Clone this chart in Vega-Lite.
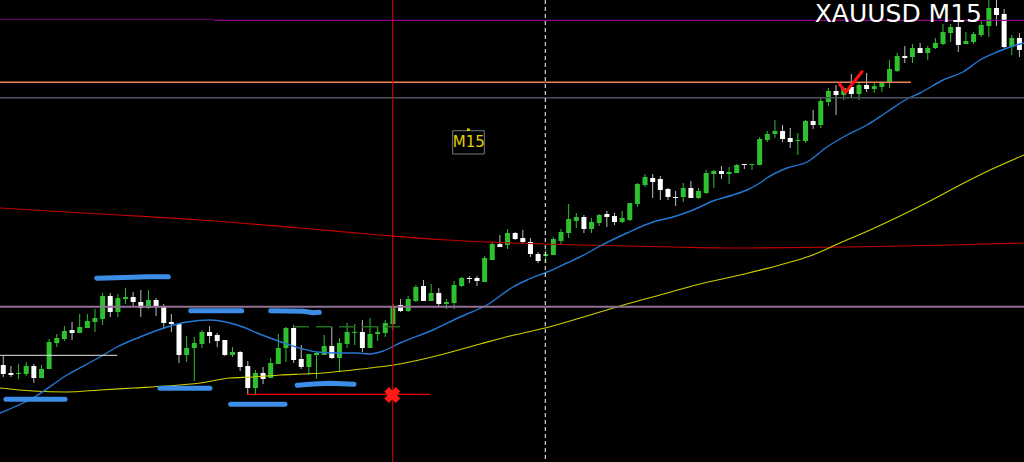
{
"$schema": "https://vega.github.io/schema/vega-lite/v6.json",
"autosize": {"type": "none"},
"width": 1024, "height": 462, "padding": 0,
"background": "#000000",
"config": {"view": {"stroke": null}, "scale": {"continuousPadding": 0}},
"datasets": {
"candles": [
{"n":1,"o":2063.5,"h":2064.4,"l":2062.3,"c":2062.6},
{"n":2,"o":2062.7,"h":2063.4,"l":2062.3,"c":2062.5},
{"n":3,"o":2062.6,"h":2063.6,"l":2062.1,"c":2062.7},
{"n":4,"o":2062.6,"h":2063.8,"l":2062.4,"c":2063.4},
{"n":5,"o":2063.4,"h":2063.6,"l":2061.7,"c":2062.2},
{"n":6,"o":2062.2,"h":2063.5,"l":2062.2,"c":2063.1},
{"n":7,"o":2063.1,"h":2066.1,"l":2063.1,"c":2065.8},
{"n":8,"o":2065.7,"h":2066.6,"l":2065.3,"c":2066.2},
{"n":9,"o":2066.1,"h":2067.4,"l":2065.9,"c":2066.9},
{"n":10,"o":2067.0,"h":2067.8,"l":2066.0,"c":2066.7},
{"n":11,"o":2066.7,"h":2068.6,"l":2066.7,"c":2067.3},
{"n":12,"o":2067.2,"h":2068.6,"l":2067.2,"c":2067.9},
{"n":13,"o":2067.8,"h":2069.1,"l":2066.8,"c":2068.2},
{"n":14,"o":2068.1,"h":2070.7,"l":2067.5,"c":2070.4},
{"n":15,"o":2070.4,"h":2070.7,"l":2068.3,"c":2068.8},
{"n":16,"o":2068.8,"h":2070.6,"l":2068.3,"c":2070.2},
{"n":17,"o":2070.1,"h":2071.2,"l":2069.6,"c":2070.3},
{"n":18,"o":2070.3,"h":2070.8,"l":2069.3,"c":2069.8},
{"n":19,"o":2069.8,"h":2071.0,"l":2068.3,"c":2069.2},
{"n":20,"o":2069.2,"h":2071.0,"l":2069.1,"c":2070.0},
{"n":21,"o":2070.0,"h":2070.2,"l":2068.4,"c":2069.4},
{"n":22,"o":2069.3,"h":2069.6,"l":2067.1,"c":2067.7},
{"n":23,"o":2067.8,"h":2068.6,"l":2066.8,"c":2067.6},
{"n":24,"o":2067.6,"h":2067.7,"l":2063.7,"c":2064.5},
{"n":25,"o":2064.5,"h":2066.4,"l":2063.8,"c":2065.2},
{"n":26,"o":2065.2,"h":2066.3,"l":2061.9,"c":2065.7},
{"n":27,"o":2065.6,"h":2067.0,"l":2065.2,"c":2066.8},
{"n":28,"o":2066.8,"h":2067.4,"l":2065.7,"c":2066.4},
{"n":29,"o":2066.5,"h":2066.7,"l":2065.3,"c":2065.9},
{"n":30,"o":2066.0,"h":2066.0,"l":2064.4,"c":2064.5},
{"n":31,"o":2064.5,"h":2065.3,"l":2064.3,"c":2064.8},
{"n":32,"o":2064.8,"h":2064.9,"l":2062.9,"c":2063.3},
{"n":33,"o":2063.4,"h":2063.9,"l":2060.6,"c":2061.2},
{"n":34,"o":2061.2,"h":2063.0,"l":2060.6,"c":2062.7},
{"n":35,"o":2062.7,"h":2063.3,"l":2061.6,"c":2062.1},
{"n":36,"o":2062.2,"h":2064.2,"l":2062.2,"c":2063.7},
{"n":37,"o":2063.6,"h":2066.6,"l":2063.6,"c":2065.2},
{"n":38,"o":2065.2,"h":2067.3,"l":2063.8,"c":2067.2},
{"n":39,"o":2067.2,"h":2067.5,"l":2063.7,"c":2064.0},
{"n":40,"o":2064.1,"h":2065.5,"l":2063.1,"c":2063.3},
{"n":41,"o":2063.3,"h":2064.6,"l":2062.5,"c":2064.6},
{"n":42,"o":2064.5,"h":2064.8,"l":2062.1,"c":2064.7},
{"n":43,"o":2064.5,"h":2066.5,"l":2064.5,"c":2065.4},
{"n":44,"o":2065.4,"h":2067.3,"l":2064.1,"c":2064.2},
{"n":45,"o":2064.2,"h":2066.2,"l":2062.8,"c":2065.7},
{"n":46,"o":2065.6,"h":2067.7,"l":2065.2,"c":2066.8},
{"n":47,"o":2066.7,"h":2067.6,"l":2065.5,"c":2066.8},
{"n":48,"o":2066.8,"h":2068.0,"l":2064.8,"c":2065.2},
{"n":49,"o":2065.2,"h":2068.2,"l":2065.2,"c":2066.6},
{"n":50,"o":2066.6,"h":2067.3,"l":2065.9,"c":2066.8},
{"n":51,"o":2066.7,"h":2068.0,"l":2066.3,"c":2067.7},
{"n":52,"o":2067.6,"h":2069.6,"l":2067.0,"c":2069.4},
{"n":53,"o":2069.5,"h":2070.1,"l":2068.8,"c":2068.9},
{"n":54,"o":2068.9,"h":2070.4,"l":2068.8,"c":2070.1},
{"n":55,"o":2069.9,"h":2071.5,"l":2069.8,"c":2071.3},
{"n":56,"o":2071.4,"h":2072.0,"l":2069.9,"c":2069.9},
{"n":57,"o":2069.9,"h":2071.6,"l":2069.9,"c":2070.7},
{"n":58,"o":2070.7,"h":2071.2,"l":2069.4,"c":2069.6},
{"n":59,"o":2069.6,"h":2070.1,"l":2069.1,"c":2069.8},
{"n":60,"o":2069.7,"h":2071.9,"l":2069.1,"c":2071.5},
{"n":61,"o":2071.4,"h":2072.3,"l":2071.3,"c":2072.2},
{"n":62,"o":2072.2,"h":2072.4,"l":2071.7,"c":2072.1},
{"n":63,"o":2072.2,"h":2072.4,"l":2071.4,"c":2071.9},
{"n":64,"o":2071.8,"h":2074.4,"l":2071.8,"c":2074.2},
{"n":65,"o":2074.0,"h":2075.8,"l":2074.0,"c":2075.6},
{"n":66,"o":2075.6,"h":2076.5,"l":2075.3,"c":2075.3},
{"n":67,"o":2075.5,"h":2077.1,"l":2075.1,"c":2076.7},
{"n":68,"o":2076.7,"h":2076.8,"l":2076.0,"c":2076.1},
{"n":69,"o":2076.2,"h":2077.0,"l":2075.7,"c":2075.8},
{"n":70,"o":2075.8,"h":2076.2,"l":2074.3,"c":2074.6},
{"n":71,"o":2074.6,"h":2074.8,"l":2073.7,"c":2073.9},
{"n":72,"o":2074.4,"h":2075.0,"l":2073.7,"c":2074.6},
{"n":73,"o":2074.5,"h":2076.3,"l":2074.5,"c":2076.1},
{"n":74,"o":2075.9,"h":2077.1,"l":2075.5,"c":2076.8},
{"n":75,"o":2076.7,"h":2079.6,"l":2076.2,"c":2078.1},
{"n":76,"o":2077.9,"h":2078.7,"l":2077.2,"c":2078.3},
{"n":77,"o":2078.3,"h":2078.5,"l":2076.7,"c":2077.1},
{"n":78,"o":2077.1,"h":2078.2,"l":2076.7,"c":2077.8},
{"n":79,"o":2077.7,"h":2078.6,"l":2077.4,"c":2078.5},
{"n":80,"o":2078.6,"h":2078.9,"l":2077.3,"c":2078.3},
{"n":81,"o":2078.4,"h":2078.7,"l":2077.5,"c":2077.8},
{"n":82,"o":2077.8,"h":2078.9,"l":2077.7,"c":2078.2},
{"n":83,"o":2078.0,"h":2079.7,"l":2077.9,"c":2079.7},
{"n":84,"o":2079.6,"h":2081.7,"l":2079.3,"c":2081.6},
{"n":85,"o":2081.5,"h":2082.6,"l":2081.3,"c":2082.3},
{"n":86,"o":2082.2,"h":2082.6,"l":2080.2,"c":2081.8},
{"n":87,"o":2082.1,"h":2082.4,"l":2080.0,"c":2081.0},
{"n":88,"o":2081.1,"h":2081.2,"l":2080.0,"c":2080.3},
{"n":89,"o":2080.3,"h":2080.9,"l":2079.4,"c":2080.2},
{"n":90,"o":2080.3,"h":2081.7,"l":2079.8,"c":2081.2},
{"n":91,"o":2081.2,"h":2081.9,"l":2080.2,"c":2080.2},
{"n":92,"o":2080.2,"h":2081.2,"l":2080.1,"c":2080.9},
{"n":93,"o":2080.7,"h":2083.0,"l":2080.6,"c":2082.7},
{"n":94,"o":2082.6,"h":2083.0,"l":2081.2,"c":2082.9},
{"n":95,"o":2082.9,"h":2083.4,"l":2082.1,"c":2082.6},
{"n":96,"o":2082.6,"h":2083.3,"l":2081.6,"c":2082.8},
{"n":97,"o":2082.7,"h":2083.6,"l":2082.7,"c":2083.5},
{"n":98,"o":2083.6,"h":2083.6,"l":2083.1,"c":2083.5},
{"n":99,"o":2083.5,"h":2083.6,"l":2083.0,"c":2083.6},
{"n":100,"o":2083.5,"h":2086.3,"l":2083.5,"c":2086.1},
{"n":101,"o":2086.0,"h":2086.9,"l":2085.8,"c":2086.6},
{"n":102,"o":2086.6,"h":2088.0,"l":2086.2,"c":2086.9},
{"n":103,"o":2086.9,"h":2087.5,"l":2085.8,"c":2086.1},
{"n":104,"o":2086.2,"h":2087.2,"l":2085.2,"c":2085.8},
{"n":105,"o":2085.9,"h":2086.7,"l":2084.5,"c":2086.0},
{"n":106,"o":2085.9,"h":2088.0,"l":2085.7,"c":2087.9},
{"n":107,"o":2087.9,"h":2089.0,"l":2087.1,"c":2087.5},
{"n":108,"o":2087.5,"h":2090.3,"l":2087.2,"c":2089.9},
{"n":109,"o":2089.8,"h":2091.2,"l":2089.4,"c":2090.9},
{"n":110,"o":2090.9,"h":2091.5,"l":2088.5,"c":2090.5},
{"n":111,"o":2090.5,"h":2091.3,"l":2090.0,"c":2091.2},
{"n":112,"o":2091.3,"h":2092.6,"l":2090.3,"c":2090.6},
{"n":113,"o":2090.6,"h":2091.7,"l":2090.0,"c":2091.5},
{"n":114,"o":2091.5,"h":2092.7,"l":2090.8,"c":2091.1},
{"n":115,"o":2091.1,"h":2091.7,"l":2090.7,"c":2091.4},
{"n":116,"o":2091.3,"h":2091.8,"l":2090.8,"c":2091.7},
{"n":117,"o":2091.7,"h":2094.0,"l":2091.2,"c":2093.1},
{"n":118,"o":2092.9,"h":2094.7,"l":2092.8,"c":2094.4},
{"n":119,"o":2094.4,"h":2095.4,"l":2093.7,"c":2094.2},
{"n":120,"o":2094.3,"h":2095.6,"l":2093.7,"c":2095.2},
{"n":121,"o":2095.2,"h":2095.7,"l":2094.7,"c":2094.7},
{"n":122,"o":2094.7,"h":2095.4,"l":2094.0,"c":2095.2},
{"n":123,"o":2095.2,"h":2096.2,"l":2095.1,"c":2095.7},
{"n":124,"o":2095.6,"h":2097.6,"l":2095.5,"c":2096.8},
{"n":125,"o":2096.7,"h":2097.6,"l":2095.8,"c":2097.3},
{"n":126,"o":2097.3,"h":2097.8,"l":2094.8,"c":2095.5},
{"n":127,"o":2095.6,"h":2096.8,"l":2095.6,"c":2095.9},
{"n":128,"o":2095.8,"h":2096.8,"l":2095.6,"c":2096.6},
{"n":129,"o":2096.5,"h":2098.0,"l":2096.3,"c":2097.5},
{"n":130,"o":2097.4,"h":2100.0,"l":2096.3,"c":2099.2},
{"n":131,"o":2099.2,"h":2100.0,"l":2097.4,"c":2098.5},
{"n":132,"o":2098.6,"h":2099.1,"l":2095.2,"c":2095.3},
{"n":133,"o":2095.3,"h":2096.5,"l":2094.5,"c":2096.2},
{"n":134,"o":2096.2,"h":2096.7,"l":2094.3,"c":2095.0}
],
"maBlue": [
{"n":0.57,"p":2058.7},{"n":4.89,"p":2060.2},{"n":9.34,"p":2062.5},{"n":13.66,"p":2064.3},{"n":15.88,"p":2065.3},{"n":18.89,"p":2066.3},{"n":22.43,"p":2067.3},{"n":25.04,"p":2067.8},{"n":28.05,"p":2068.0},{"n":30.67,"p":2067.7},{"n":32.37,"p":2067.3},{"n":34.2,"p":2066.7},{"n":35.91,"p":2066.2},{"n":38.13,"p":2065.6},{"n":40.23,"p":2065.1},{"n":42.06,"p":2064.8},{"n":44.68,"p":2064.7},{"n":47.3,"p":2064.7},{"n":49.0,"p":2064.6},{"n":50.7,"p":2064.9},{"n":52.92,"p":2065.7},{"n":57.24,"p":2067.0},{"n":60.78,"p":2068.3},{"n":64.31,"p":2069.5},{"n":67.71,"p":2071.3},{"n":69.55,"p":2072.0},{"n":72.17,"p":2072.8},{"n":74.78,"p":2073.7},{"n":76.48,"p":2074.3},{"n":79.1,"p":2075.4},{"n":82.64,"p":2076.7},{"n":86.04,"p":2077.8},{"n":88.66,"p":2078.3},{"n":91.28,"p":2079.0},{"n":93.89,"p":2079.9},{"n":96.51,"p":2080.5},{"n":98.34,"p":2081.0},{"n":100.04,"p":2081.7},{"n":100.96,"p":2082.2},{"n":103.58,"p":2083.2},{"n":106.2,"p":2083.8},{"n":108.81,"p":2085.3},{"n":111.43,"p":2086.5},{"n":114.05,"p":2087.5},{"n":116.67,"p":2088.8},{"n":119.28,"p":2090.1},{"n":120.99,"p":2090.7},{"n":124.0,"p":2092.0},{"n":126.61,"p":2092.8},{"n":128.84,"p":2094.0},{"n":131.06,"p":2094.8},{"n":133.16,"p":2095.4},{"n":134.6,"p":2095.7}
],
"maYellow": [
{"n":0.57,"p":2061.2},{"n":4.89,"p":2060.9},{"n":9.34,"p":2060.8},{"n":13.66,"p":2061.0},{"n":17.98,"p":2061.2},{"n":22.43,"p":2061.4},{"n":26.75,"p":2061.7},{"n":30.67,"p":2062.2},{"n":33.68,"p":2062.3},{"n":37.22,"p":2062.5},{"n":40.23,"p":2062.6},{"n":42.85,"p":2062.7},{"n":45.46,"p":2062.9},{"n":49.0,"p":2063.2},{"n":52.92,"p":2063.6},{"n":58.16,"p":2064.5},{"n":63.4,"p":2065.6},{"n":67.32,"p":2066.4},{"n":71.9,"p":2067.2},{"n":76.48,"p":2068.2},{"n":81.72,"p":2069.4},{"n":86.95,"p":2070.5},{"n":92.19,"p":2071.6},{"n":97.43,"p":2072.5},{"n":102.66,"p":2073.5},{"n":106.59,"p":2074.4},{"n":110.52,"p":2075.7},{"n":114.44,"p":2077.0},{"n":118.37,"p":2078.4},{"n":122.3,"p":2079.9},{"n":126.22,"p":2081.5},{"n":130.15,"p":2083.0},{"n":134.6,"p":2084.5}
],
"maRed": [
{"n":0.57,"p":2079.2},{"n":13.66,"p":2078.6},{"n":26.75,"p":2078.0},{"n":39.84,"p":2077.2},{"n":50.31,"p":2076.5},{"n":59.08,"p":2076.0},{"n":67.71,"p":2075.7},{"n":76.48,"p":2075.5},{"n":88.66,"p":2075.3},{"n":97.43,"p":2075.2},{"n":111.83,"p":2075.3},{"n":124.91,"p":2075.5},{"n":134.6,"p":2075.7}
],
"strokes": [
{"s":"a","n":13.23,"p":2072.17},{"s":"a","n":18.02,"p":2072.27},{"s":"a","n":19.77,"p":2072.33},{"s":"a","n":22.6,"p":2072.33},
{"s":"b","n":1.35,"p":2060.07},{"s":"b","n":9.08,"p":2060.07},
{"s":"c","n":21.51,"p":2061.17},{"s":"c","n":28.05,"p":2061.17},
{"s":"d","n":25.53,"p":2068.93},{"s":"d","n":32.2,"p":2068.93},
{"s":"e","n":36.0,"p":2068.93},{"s":"e","n":40.27,"p":2068.87},{"s":"e","n":41.58,"p":2068.73},{"s":"e","n":42.36,"p":2068.77},
{"s":"f","n":30.76,"p":2059.57},{"s":"f","n":37.87,"p":2059.57},
{"s":"g","n":39.48,"p":2061.47},{"s":"g","n":41.58,"p":2061.6},{"s":"g","n":43.76,"p":2061.67},{"s":"g","n":46.9,"p":2061.57}
],
"check": [
{"n":110.45,"p":2091.6},{"n":111.25,"p":2090.77},{"n":113.4,"p":2092.83}
]
},
"layer": [
{
"data": {"name": "candles"},
"mark": {"type": "rule", "strokeWidth": 1},
"encoding": {
"x": {"field": "n", "type": "quantitative", "scale": {"domain": [0.57, 134.6], "nice": false, "zero": false, "padding": 0}, "axis": null},
"y": {"field": "l", "type": "quantitative", "scale": {"domain": [2053.8, 2100], "nice": false, "zero": false}, "axis": null},
"y2": {"field": "h"},
"color": {"condition": {"test": "datum.c > datum.o", "value": "#2fc02f"}, "value": "#bdbdbd"}
}
},
{
"data": {"name": "candles"},
"mark": {"type": "bar", "width": 5},
"encoding": {
"x": {"field": "n", "type": "quantitative", "scale": {"domain": [0.57, 134.6], "nice": false, "zero": false, "padding": 0}, "axis": null},
"y": {"field": "o", "type": "quantitative", "scale": {"domain": [2053.8, 2100], "nice": false, "zero": false}, "axis": null},
"y2": {"field": "c"},
"color": {"condition": {"test": "datum.c > datum.o", "value": "#2fc02f"}, "value": "#ffffff"}
}
},
{
"data": {"name": "maRed"},
"mark": {"type": "line", "color": "#c00000", "strokeWidth": 1.2, "interpolate": "monotone"},
"encoding": {
"x": {"field": "n", "type": "quantitative", "scale": {"domain": [0.57, 134.6], "nice": false, "zero": false, "padding": 0}, "axis": null},
"y": {"field": "p", "type": "quantitative", "scale": {"domain": [2053.8, 2100], "nice": false, "zero": false}, "axis": null}
}
},
{
"data": {"name": "maYellow"},
"mark": {"type": "line", "color": "#d0d000", "strokeWidth": 1.1, "interpolate": "monotone"},
"encoding": {
"x": {"field": "n", "type": "quantitative", "scale": {"domain": [0.57, 134.6], "nice": false, "zero": false, "padding": 0}, "axis": null},
"y": {"field": "p", "type": "quantitative", "scale": {"domain": [2053.8, 2100], "nice": false, "zero": false}, "axis": null}
}
},
{
"data": {"name": "maBlue"},
"mark": {"type": "line", "color": "#2478d4", "strokeWidth": 1.4, "interpolate": "monotone"},
"encoding": {
"x": {"field": "n", "type": "quantitative", "scale": {"domain": [0.57, 134.6], "nice": false, "zero": false, "padding": 0}, "axis": null},
"y": {"field": "p", "type": "quantitative", "scale": {"domain": [2053.8, 2100], "nice": false, "zero": false}, "axis": null}
}
},
{
"data": {"values": [{"p": 2069.33}]},
"mark": {"type": "rule", "color": "#907094", "strokeWidth": 2},
"encoding": {
"y": {"field": "p", "type": "quantitative", "scale": {"domain": [2053.8, 2100], "nice": false, "zero": false}, "axis": null}
}
},
{
"data": {"values": [{"p": 2090.23}]},
"mark": {"type": "rule", "color": "#4a525c", "strokeWidth": 1.5},
"encoding": {
"y": {"field": "p", "type": "quantitative", "scale": {"domain": [2053.8, 2100], "nice": false, "zero": false}, "axis": null}
}
},
{
"data": {"values": [{"n": 0.57, "n2": 119.8, "p": 2091.77}]},
"mark": {"type": "rule", "color": "#e8845c", "strokeWidth": 1.5},
"encoding": {
"x": {"field": "n", "type": "quantitative", "scale": {"domain": [0.57, 134.6], "nice": false, "zero": false, "padding": 0}, "axis": null},
"x2": {"field": "n2"},
"y": {"field": "p", "type": "quantitative", "scale": {"domain": [2053.8, 2100], "nice": false, "zero": false}, "axis": null}
}
},
{
"data": {"values": [{"n": 0.57, "n2": 28.58, "p": 2098.07}]},
"mark": {"type": "rule", "color": "#720072", "strokeWidth": 1},
"encoding": {
"x": {"field": "n", "type": "quantitative", "scale": {"domain": [0.57, 134.6], "nice": false, "zero": false, "padding": 0}, "axis": null},
"x2": {"field": "n2"},
"y": {"field": "p", "type": "quantitative", "scale": {"domain": [2053.8, 2100], "nice": false, "zero": false}, "axis": null}
}
},
{
"data": {"values": [{"n": 28.58, "n2": 134.6, "p": 2097.97}]},
"mark": {"type": "rule", "color": "#8c008c", "strokeWidth": 1.3},
"encoding": {
"x": {"field": "n", "type": "quantitative", "scale": {"domain": [0.57, 134.6], "nice": false, "zero": false, "padding": 0}, "axis": null},
"x2": {"field": "n2"},
"y": {"field": "p", "type": "quantitative", "scale": {"domain": [2053.8, 2100], "nice": false, "zero": false}, "axis": null}
}
},
{
"data": {"values": [{"n": 0.57, "n2": 15.92, "p": 2064.47}]},
"mark": {"type": "rule", "color": "#e6e6e6", "strokeWidth": 1},
"encoding": {
"x": {"field": "n", "type": "quantitative", "scale": {"domain": [0.57, 134.6], "nice": false, "zero": false, "padding": 0}, "axis": null},
"x2": {"field": "n2"},
"y": {"field": "p", "type": "quantitative", "scale": {"domain": [2053.8, 2100], "nice": false, "zero": false}, "axis": null}
}
},
{
"data": {"values": [{"n": 38.92, "n2": 52.92, "p": 2067.33}]},
"mark": {"type": "rule", "color": "#1f6e1f", "strokeWidth": 1.5, "strokeDash": [16, 7]},
"encoding": {
"x": {"field": "n", "type": "quantitative", "scale": {"domain": [0.57, 134.6], "nice": false, "zero": false, "padding": 0}, "axis": null},
"x2": {"field": "n2"},
"y": {"field": "p", "type": "quantitative", "scale": {"domain": [2053.8, 2100], "nice": false, "zero": false}, "axis": null}
}
},
{
"data": {"values": [{"n": 32.9, "n2": 56.85, "p": 2060.57}]},
"mark": {"type": "rule", "color": "#f00000", "strokeWidth": 1.2},
"encoding": {
"x": {"field": "n", "type": "quantitative", "scale": {"domain": [0.57, 134.6], "nice": false, "zero": false, "padding": 0}, "axis": null},
"x2": {"field": "n2"},
"y": {"field": "p", "type": "quantitative", "scale": {"domain": [2053.8, 2100], "nice": false, "zero": false}, "axis": null}
}
},
{
"data": {"values": [{"n": 51.97}]},
"mark": {"type": "rule", "color": "#e00000", "strokeWidth": 1},
"encoding": {
"x": {"field": "n", "type": "quantitative", "scale": {"domain": [0.57, 134.6], "nice": false, "zero": false, "padding": 0}, "axis": null}
}
},
{
"data": {"values": [{"n": 71.94}]},
"mark": {"type": "rule", "color": "#ffffff", "strokeWidth": 1, "strokeDash": [4, 3]},
"encoding": {
"x": {"field": "n", "type": "quantitative", "scale": {"domain": [0.57, 134.6], "nice": false, "zero": false, "padding": 0}, "axis": null}
}
},
{
"data": {"name": "strokes"},
"mark": {"type": "line", "color": "#3b8de8", "strokeWidth": 5, "strokeCap": "round", "strokeJoin": "round"},
"encoding": {
"x": {"field": "n", "type": "quantitative", "scale": {"domain": [0.57, 134.6], "nice": false, "zero": false, "padding": 0}, "axis": null},
"y": {"field": "p", "type": "quantitative", "scale": {"domain": [2053.8, 2100], "nice": false, "zero": false}, "axis": null},
"detail": {"field": "s", "type": "nominal"}
}
},
{
"data": {"name": "check"},
"mark": {"type": "line", "color": "#ff1010", "strokeWidth": 3, "strokeCap": "round", "strokeJoin": "round"},
"encoding": {
"x": {"field": "n", "type": "quantitative", "scale": {"domain": [0.57, 134.6], "nice": false, "zero": false, "padding": 0}, "axis": null},
"y": {"field": "p", "type": "quantitative", "scale": {"domain": [2053.8, 2100], "nice": false, "zero": false}, "axis": null}
}
},
{
"data": {"values": [{"n": 51.92, "p": 2060.5}]},
"mark": {"type": "point", "shape": "cross", "angle": 45, "filled": true, "color": "#ff1a1a", "size": 260, "opacity": 1},
"encoding": {
"x": {"field": "n", "type": "quantitative", "scale": {"domain": [0.57, 134.6], "nice": false, "zero": false, "padding": 0}, "axis": null},
"y": {"field": "p", "type": "quantitative", "scale": {"domain": [2053.8, 2100], "nice": false, "zero": false}, "axis": null}
}
},
{
"data": {"values": [{"n": 59.82, "n2": 63.96, "p": 2086.93, "p2": 2084.6}]},
"mark": {"type": "rect", "fill": "#000000", "stroke": "#7a7a7a", "strokeWidth": 1},
"encoding": {
"x": {"field": "n", "type": "quantitative", "scale": {"domain": [0.57, 134.6], "nice": false, "zero": false, "padding": 0}, "axis": null},
"x2": {"field": "n2"},
"y": {"field": "p", "type": "quantitative", "scale": {"domain": [2053.8, 2100], "nice": false, "zero": false}, "axis": null},
"y2": {"field": "p2"}
}
},
{
"data": {"values": [{"n": 61.87, "p": 2087.03}]},
"mark": {"type": "square", "color": "#e0d000", "size": 7, "opacity": 1},
"encoding": {
"x": {"field": "n", "type": "quantitative", "scale": {"domain": [0.57, 134.6], "nice": false, "zero": false, "padding": 0}, "axis": null},
"y": {"field": "p", "type": "quantitative", "scale": {"domain": [2053.8, 2100], "nice": false, "zero": false}, "axis": null}
}
},
{
"data": {"values": [{"n": 61.92, "p": 2085.83, "label": "M15"}]},
"mark": {"type": "text", "font": "DejaVu Sans", "fontSize": 15, "color": "#e0d000", "align": "center", "baseline": "middle"},
"encoding": {
"x": {"field": "n", "type": "quantitative", "scale": {"domain": [0.57, 134.6], "nice": false, "zero": false, "padding": 0}, "axis": null},
"y": {"field": "p", "type": "quantitative", "scale": {"domain": [2053.8, 2100], "nice": false, "zero": false}, "axis": null},
"text": {"field": "label"}
}
},
{
"data": {"values": [{"n": 129.1, "p": 2097.83, "label": "XAUUSD M15"}]},
"mark": {"type": "text", "font": "DejaVu Sans", "fontSize": 25, "color": "#ffffff", "align": "right", "baseline": "alphabetic"},
"encoding": {
"x": {"field": "n", "type": "quantitative", "scale": {"domain": [0.57, 134.6], "nice": false, "zero": false, "padding": 0}, "axis": null},
"y": {"field": "p", "type": "quantitative", "scale": {"domain": [2053.8, 2100], "nice": false, "zero": false}, "axis": null},
"text": {"field": "label"}
}
}
]
}
